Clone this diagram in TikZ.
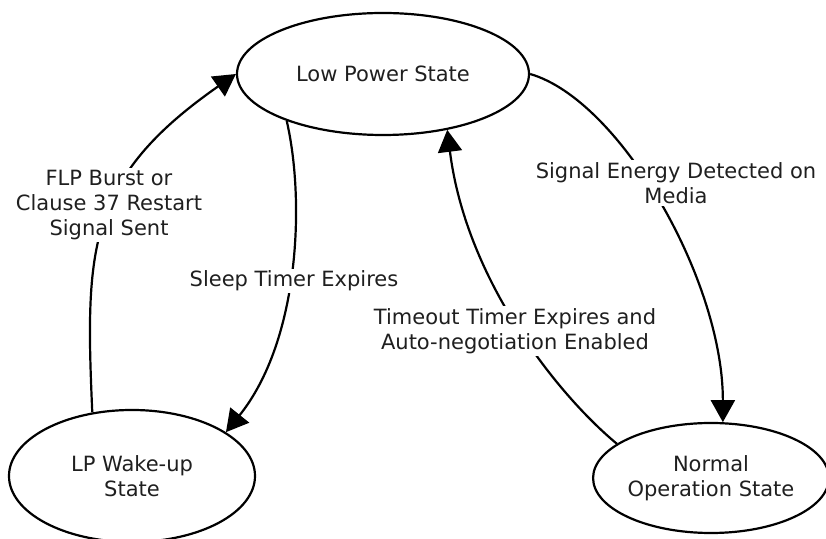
\documentclass[tikz,border=0pt]{standalone}
\usepackage{fontspec}
\setmainfont{DejaVu Sans}
\usetikzlibrary{shapes.geometric, arrows.meta}

\begin{document}
\begin{tikzpicture}[x=0.5pt, y=-0.5pt,
    every node/.style={font=\fontsize{10.5}{12.5}\selectfont, text=black!88},
    state/.style={draw, ellipse, line width=1.1pt, inner sep=0pt, align=center},
    edgelabel/.style={fill=white, inner sep=1pt, align=center},
    trans/.style={line width=1.1pt, -{Triangle[length=11pt, width=12pt]}}]
    \useasboundingbox (0,0) rectangle (826,539);
    \node[state, minimum width=146pt, minimum height=61pt] at (383,74) (lowpower) {Low Power State};
    \node[state, minimum width=123pt, minimum height=66pt] at (132,476) (wakeup) {LP Wake-up\\State};
    \node[state, minimum width=114pt, minimum height=55pt] at (711,478) (normal) {Normal\\Operation State};
    \draw[trans] (wakeup.122) .. controls (85,248) and (87,178) .. (lowpower.west);
    \draw[trans] (lowpower.206) .. controls (305,200) and (300,340) .. (wakeup.25);
    \draw[trans] (lowpower.east) .. controls (620,100) and (723,280) .. (normal.78);
    \draw[trans] (normal.160) .. controls (558,395) and (466,280) .. (lowpower.319);
    \node[edgelabel] at (109,205) (flp) {FLP Burst or\\Clause 37 Restart\\Signal Sent};
    \node[edgelabel] at (294,281) (sleep) {Sleep Timer Expires};
    \node[edgelabel] at (676,183) (energy) {Signal Energy Detected on\\Media};
    \node[edgelabel] at (515,331) (timeout) {Timeout Timer Expires and\\Auto-negotiation Enabled};
\end{tikzpicture}
\end{document}
